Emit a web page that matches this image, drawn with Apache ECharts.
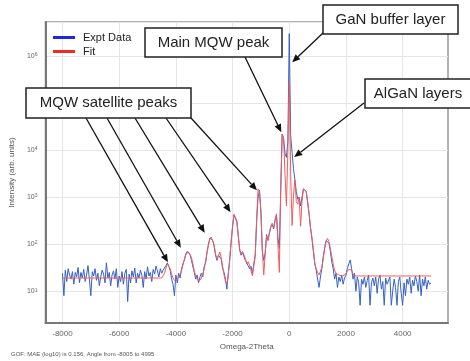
<!DOCTYPE html>
<html>
<head>
<meta charset="utf-8">
<script src="https://cdn.jsdelivr.net/npm/echarts@6/dist/echarts.min.js"></script>
<style>
  html, body { margin: 0; padding: 0; background: #fff; }
  #chart { width: 470px; height: 361px; }
</style>
</head>
<body>
<div id="chart"></div>
<script>
// scan: omega-2theta from -8000 in steps of 50 (arcsec)
const angleStart = -8000;
const angleStep = 50;

const exptData = [
  24, 8, 28, 16, 30, 22, 18, 26, 14, 25,
  20, 32, 15, 25, 19, 29, 16, 22, 35, 18,
  8, 26, 21, 30, 17, 24, 13, 20, 28, 23,
  15, 40, 19, 25, 13, 22, 27, 18, 30, 12,
  21, 16, 26, 14, 24, 29, 6, 23, 15, 27,
  20, 31, 15, 24, 19, 28, 22, 12, 26, 18,
  33, 21, 25, 16, 29, 23, 34, 27, 20, 30,
  24, 28, 26, 35, 40, 34, 28, 18, 14, 8,
  22, 15, 24, 19, 30, 38, 45, 62, 70, 66,
  60, 45, 42, 25, 18, 22, 15, 20, 24, 20,
  34, 40, 70, 100, 135, 140, 120, 90, 58, 45,
  58, 62, 48, 30, 25, 18, 11, 24, 45, 110,
  230, 420, 430, 300, 150, 75, 58, 66, 68, 45,
  40, 44, 30, 34, 24, 26, 60, 300, 1000, 1400,
  480, 70, 45, 65, 160, 120, 170, 230, 260, 210,
  320, 420, 140, 80, 1500, 22000, 18000, 8500, 7000, 15000,
  3000000, 20000, 9000, 4000, 2300, 1300, 900, 1000, 650, 1000,
  1500, 1550, 1300, 750, 430, 220, 130, 70, 38, 28,
  18, 12, 20, 30, 55, 85, 120, 128, 105, 70,
  42, 30, 18, 24, 12, 20, 16, 22, 14, 19,
  22, 30, 38, 46, 30, 18, 24, 10, 20, 15,
  5, 18, 14, 20, 12, 17, 22, 5, 15, 19,
  13, 20, 9, 18, 22, 11, 16, 5, 19, 14,
  14, 20, 5, 10, 18, 12, 5, 16, 20, 9,
  5, 15, 8, 18, 14, 20, 9, 17, 13, 21,
  16, 10, 22, 8, 18, 13, 20, 11, 17, 14,
  15
];

const fitData = [
  19, 19, 19, 19, 19, 19, 19, 19, 19, 19,
  19, 19, 19, 19, 19, 19, 19, 19, 19, 19,
  19, 19, 19, 19, 19, 19, 19, 19, 19, 19,
  19, 19, 19, 19, 19, 19, 19, 19, 19, 19,
  19, 19, 19, 19, 19, 19, 19, 19, 19, 19,
  19, 19, 19, 19, 19, 19, 19, 19, 19, 19,
  19, 19, 19, 19, 19, 19, 19, 19, 19, 19,
  19, 20, 24, 31, 38, 37, 30, 23, 19, 17,
  17, 18, 19, 22, 27, 36, 48, 60, 66, 68,
  64, 52, 38, 27, 21, 18, 17, 17, 19, 23,
  30, 43, 65, 95, 128, 142, 130, 95, 62, 48,
  55, 68, 52, 34, 22, 16, 14, 22, 50, 115,
  240, 430, 440, 320, 160, 80, 62, 70, 72, 50,
  38, 42, 36, 28, 21, 20, 55, 350, 1500, 1300,
  500, 80, 22, 60, 150, 120, 180, 240, 280, 220,
  330, 440, 100, 25, 1500, 22000, 18000, 3000, 650, 9000,
  280000, 3000, 250, 1100, 2300, 800, 700, 1000, 240, 800,
  1500, 1600, 1300, 800, 450, 230, 140, 80, 40, 30,
  25, 22, 24, 32, 50, 80, 115, 132, 115, 80,
  55, 38, 28, 24, 23, 22, 21, 21, 21, 22,
  24, 26, 29, 31, 28, 23, 21, 21, 21, 21,
  21, 21, 21, 21, 21, 21, 21, 21, 21, 21,
  21, 21, 21, 21, 21, 21, 21, 21, 21, 21,
  21, 21, 21, 21, 21, 21, 21, 21, 21, 21,
  21, 21, 21, 21, 21, 21, 21, 21, 21, 21,
  21, 21, 21, 21, 21, 21, 21, 21, 21, 21,
  21
];

const xTicks = [-8000, -6000, -4000, -2000, 0, 2000, 4000];

// arrow tips in data coords [angle, intensity]
const satelliteTips = [[-4281, 41], [-3825, 84], [-2982, 175], [-2070, 479], [-1140, 1400]];
const mainMqwTip = [-281, 24000];
const ganTip = [105, 740000];
const alganTip = [175, 7100];

const footnote = "GOF: MAE (log10) is 0.156, Angle from -8005 to 4995";

const angles = exptData.map((_, i) => angleStart + i * angleStep);

const chart = echarts.init(document.getElementById("chart"));

const font = "Liberation Sans";

chart.setOption({
  animation: false,
  title: {
    text: footnote,
    left: 11,
    top: 351,
    padding: 0,
    textStyle: { fontSize: 6, fontWeight: "normal", color: "#555", fontFamily: font },
  },
  legend: {
    orient: "vertical",
    left: 48,
    top: 27,
    itemWidth: 22,
    itemHeight: 3,
    itemGap: 3,
    icon: "rect",
    textStyle: { fontSize: 11, color: "#222", fontFamily: font, padding: [0, 0, 0, 3] },
    data: ["Expt Data", "Fit"],
  },
  grid: {
    left: 44,
    right: 22,
    top: 22,
    bottom: 38,
    show: true,
    borderColor: "#999",
    borderWidth: 1.5,
  },
  xAxis: {
    type: "value",
    min: -8600,
    max: 5600,
    name: "Omega-2Theta",
    nameLocation: "middle",
    nameGap: 19,
    nameTextStyle: { fontSize: 8, color: "#555", fontFamily: font },
    axisLine: { onZero: false, lineStyle: { color: "#777", width: 2 } },
    axisTick: { show: false, customValues: xTicks },
    axisLabel: {
      customValues: xTicks,
      fontSize: 8,
      color: "#666",
      margin: 7,
      fontFamily: font,
      formatter: (v) => String(v),
    },
    splitLine: { show: true, lineStyle: { color: "#e6e6e6" } },
  },
  yAxis: {
    type: "log",
    logBase: 10,
    min: 2.1,
    max: 5.3e6,
    name: "Intensity (arb. units)",
    nameLocation: "middle",
    nameGap: 27,
    nameTextStyle: { fontSize: 8, color: "#555", fontFamily: font },
    axisLine: { show: true, onZero: false, lineStyle: { color: "#777", width: 2 } },
    axisTick: { show: false },
    axisLabel: {
      fontSize: 7,
      color: "#666",
      margin: 8,
      fontFamily: font,
      formatter: function (v) {
        const e = Math.log10(v);
        if (Math.abs(e - Math.round(e)) > 1e-6) return "";
        return "10{s|" + Math.round(e) + "}";
      },
      rich: { s: { fontSize: 5, verticalAlign: "top", color: "#666" } },
    },
    splitLine: { show: true, lineStyle: { color: "#e6e6e6" } },
  },
  series: [
    {
      name: "Expt Data",
      type: "line",
      data: angles.map((a, i) => [a, exptData[i]]),
      showSymbol: false,
      itemStyle: { color: "#2323e0" },
      lineStyle: { color: "#3560c8", width: 1 },
      z: 2,
    },
    {
      name: "Fit",
      type: "line",
      data: angles.map((a, i) => [a, fitData[i]]),
      showSymbol: false,
      itemStyle: { color: "#f02828" },
      lineStyle: { color: "#f25c5c", width: 1 },
      z: 3,
    },
  ],
});

// annotation boxes and arrows
function px(p) {
  return chart.convertToPixel({ gridIndex: 0 }, p);
}

function arrow(from, to) {
  const dx = to[0] - from[0], dy = to[1] - from[1];
  const len = Math.hypot(dx, dy);
  const ux = dx / len, uy = dy / len;
  const hl = 8, hw = 3.5;
  const bx = to[0] - ux * hl, by = to[1] - uy * hl;
  return [
    { type: "line", z: 100, shape: { x1: from[0], y1: from[1], x2: bx, y2: by }, style: { stroke: "#111", lineWidth: 1.3 } },
    { type: "polygon", z: 100, shape: { points: [to, [bx - uy * hw, by + ux * hw], [bx + uy * hw, by - ux * hw]] }, style: { fill: "#111" } },
  ];
}

function box(x, y, w, h, text) {
  return [
    { type: "rect", z: 101, shape: { x: x, y: y, width: w, height: h }, style: { fill: "#fff", stroke: "#222", lineWidth: 1.5 } },
    {
      type: "text", z: 102, x: x + w / 2, y: y + h / 2,
      style: { text: text, fontSize: 15, fontFamily: font, fill: "#222", align: "center", verticalAlign: "middle", textAlign: "center", textVerticalAlign: "middle" },
    },
  ];
}

let g = [];
const satStarts = [[86, 118], [107, 118], [135, 118], [166, 118], [191, 118]];
satelliteTips.forEach((t, i) => { g = g.concat(arrow(satStarts[i], px(t))); });
g = g.concat(arrow([245, 57], px(mainMqwTip)));
g = g.concat(arrow([323, 33], px(ganTip)));
g = g.concat(arrow([364, 103], px(alganTip)));
g = g.concat(box(26, 88, 165, 30, "MQW satellite peaks"));
g = g.concat(box(145, 28, 137, 29, "Main MQW peak"));
g = g.concat(box(323, 5, 135, 29, "GaN buffer layer"));
g = g.concat(box(365, 79, 106, 29, "AlGaN layers"));

chart.setOption({ graphic: g });
</script>
</body>
</html>
